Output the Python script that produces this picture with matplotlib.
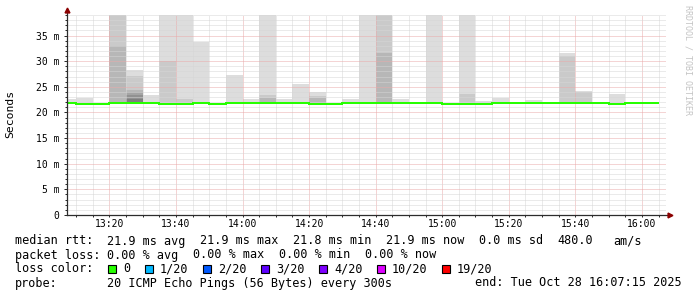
import matplotlib
matplotlib.use("Agg")
import matplotlib.pyplot as plt
from matplotlib.patches import Rectangle
from matplotlib.ticker import MultipleLocator, FuncFormatter

plt.rcParams['font.family'] = ['DejaVu Sans Mono']

# graph window: 13:07:15 .. 16:07:15, x in minutes after 13:00
t_start, t_end = 7.25, 187.25
y_top = 39.1  # upper limit, smoke is capped here

# end of each 5 minute step (minutes after 13:00)
step_end = [10, 15, 20, 25, 30, 35, 40, 45, 50, 55, 60, 65,
            70, 75, 80, 85, 90, 95, 100, 105, 110, 115, 120, 125,
            130, 135, 140, 145, 150, 155, 160, 165, 170, 175, 180, 185]

# median rtt per step (ms)
median_ms = [21.9, 21.7, 21.7, 21.9, 21.9, 21.9, 21.7, 21.7, 21.9, 21.7, 21.9, 21.9,
             21.9, 21.9, 21.9, 21.7, 21.7, 21.9, 21.9, 21.9, 21.9, 21.9, 21.9, 21.7,
             21.7, 21.7, 21.9, 21.9, 21.9, 21.9, 21.9, 21.9, 21.9, 21.7, 21.9, 21.9]

# slowest pings of each step (ms), all other pings sit at the median
slow_pings = [
    [22.7], [22.9], [], [48.2, 41.5, 32.9], [28.3, 27.1, 24.4, 24.0, 23.4, 22.6],
    [23.4], [44.0, 30.1], [43.0, 22.7], [33.8], [], [27.3], [22.7],
    [42.0, 23.4, 22.9], [22.7], [25.5], [24.0, 23.2, 22.8], [], [22.7],
    [41.0], [46.0, 40.5, 31.6], [22.6], [], [40.5], [],
    [42.5, 23.6], [22.3], [22.9], [], [22.5], [],
    [31.6, 31.0], [24.2, 24.0], [], [23.6], [], [],
]
n_pings = 20

loss_labels = ['0', '1/20', '2/20', '3/20', '4/20', '10/20', '19/20']
loss_colors = ['#26ff00', '#00b8ff', '#0059ff', '#5e00ff', '#7e00ff', '#dd00ff', '#ff0000']

W, H = 697, 297
fig = plt.figure(figsize=(W / 100, H / 100), dpi=100)
ax = fig.add_axes([67 / W, 1 - 215 / H, 599 / W, 200.5 / H])

# smoke: band i spans ping i .. ping n+1-i, darker towards the middle
half = n_pings // 2
starts = [max(e - 5, t_start) for e in step_end]
for s, e, med, slow in zip(starts, step_end, median_ms, slow_pings):
    pings = sorted([med] * (n_pings - len(slow)) + slow)
    pings = [min(p, y_top) for p in pings]
    for i in range(1, half + 1):
        lo, hi = pings[i - 1], pings[n_pings - i]
        g = int(190 / half * (half - i)) + 50
        ax.bar(s, hi - lo, width=e - s, bottom=lo, align='edge',
               color='#%02x%02x%02x' % (g, g, g), linewidth=0, zorder=1)

# median line (no loss -> green)
ax.stairs(median_ms, starts + [step_end[-1]], baseline=None,
          color=loss_colors[0], linewidth=1.44, zorder=3)

ax.set_xlim(t_start, t_end)
ax.set_ylim(0, y_top)
ax.xaxis.set_major_locator(MultipleLocator(20))
ax.xaxis.set_minor_locator(MultipleLocator(5))
ax.yaxis.set_major_locator(MultipleLocator(5))
ax.yaxis.set_minor_locator(MultipleLocator(1))
ax.xaxis.set_major_formatter(FuncFormatter(lambda m, p: '%d:%02d' % (13 + int(m) // 60, int(m) % 60)))
ax.yaxis.set_major_formatter(FuncFormatter(lambda v, p: '0' if v == 0 else '%d m' % v))

ax.grid(which='minor', color='#d6d6d6', linestyle=(0, (1, 1)), linewidth=0.72)
ax.grid(which='major', color='#eaaaaa', linestyle=(0, (1, 1)), linewidth=0.72)
ax.set_axisbelow('line')

for sp in ax.spines.values():
    sp.set_visible(False)
axis_col = '#2c2c2c'
ax.plot([0, 0], [0, 1.02], transform=ax.transAxes, clip_on=False, color=axis_col, lw=0.9, zorder=4)
ax.plot([0, 1.006], [0, 0], transform=ax.transAxes, clip_on=False, color=axis_col, lw=0.9, zorder=4)
ax.plot([0], [1.02], marker='^', ms=3.5, color='#8b0000', transform=ax.transAxes, clip_on=False, zorder=5)
ax.plot([1.006], [0], marker='>', ms=3.5, color='#8b0000', transform=ax.transAxes, clip_on=False, zorder=5)

ax.tick_params(which='both', direction='out', color=axis_col, width=0.72, labelsize=7)
ax.tick_params(axis='y', which='major', length=2.2, pad=3.3)
ax.tick_params(axis='y', which='minor', length=1.4)
ax.tick_params(axis='x', which='both', length=1.4, pad=1.8)

fig.text(10.7 / W, 1 - 113.7 / H, 'Seconds', rotation=90, fontsize=8.2, ha='center', va='center')
fig.text(688 / W, 1 - 5 / H, 'RRDTOOL / TOBI OETIKER', rotation=270, fontsize=6,
         color='#c4c4c4', ha='center', va='top')


def put(x, y, s, ha='left'):
    fig.text((x - 0.7) / W, 1 - y / H, s, fontsize=8.45, ha=ha, va='center')


put(16, 241, 'median rtt:')
for x, s in zip([107.3, 200.3, 293.3, 386.3, 479.3, 558, 613.7],
                ['21.9 ms avg', '21.9 ms max', '21.8 ms min', '21.9 ms now',
                 '0.0 ms sd', '480.0', 'am/s']):
    put(x, 241, s)

put(16, 255, 'packet loss:')
for x, s in zip([107.3, 193.3, 279.5, 365.3],
                ['0.00 % avg', '0.00 % max', '0.00 % min', '0.00 % now']):
    put(x, 255, s)

put(16, 269, 'loss color:')
x = 108.3
for lab, col in zip(loss_labels, loss_colors):
    fig.add_artist(Rectangle((x / W, 1 - 273 / H), 8 / W, 8 / H, transform=fig.transFigure,
                             facecolor=col, edgecolor='black', linewidth=0.8))
    put(x + 15.5, 269, lab)
    x = x + 15 + len(lab) * 7.0 + 15

put(16, 283, 'probe:')
put(107.3, 283, '20 ICMP Echo Pings (56 Bytes) every 300s')
put(682, 283, 'end: Tue Oct 28 16:07:15 2025', ha='right')

fig.savefig('out.png', dpi=100)
